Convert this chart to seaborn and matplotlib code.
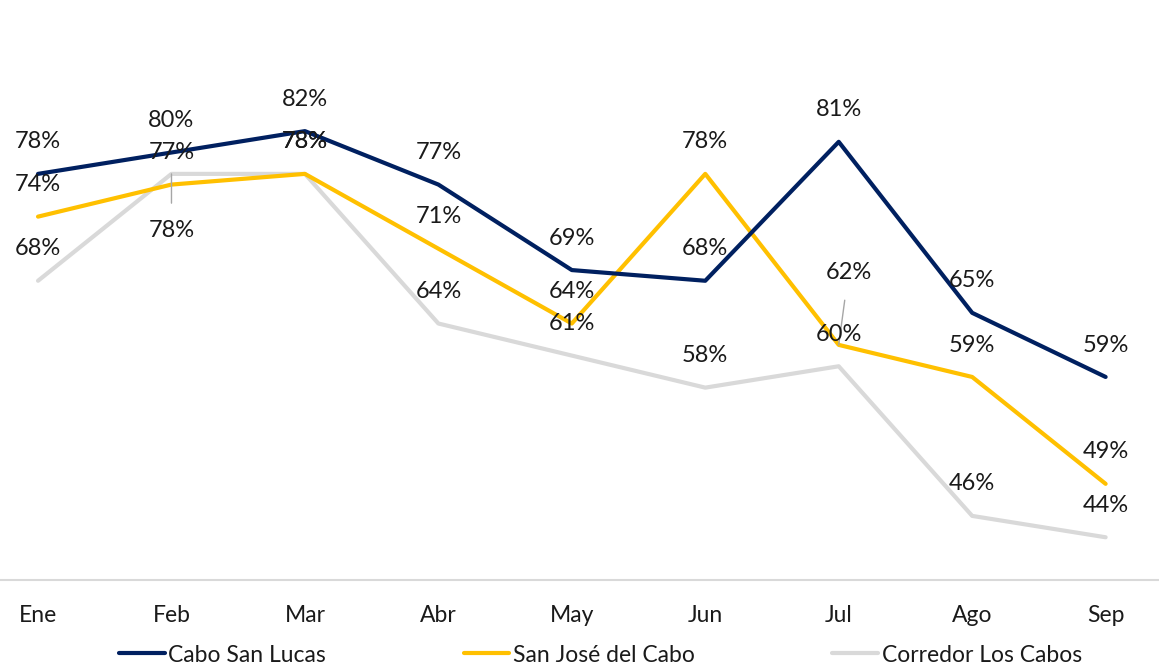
"""
Ocupación hotelera mensual - Los Cabos (line chart with data labels).
"""

import numpy as np
import pandas as pd
import matplotlib
matplotlib.use("Agg")
import matplotlib.pyplot as plt
import seaborn as sns


# ---------------------------------------------------------------------------
# Data
# ---------------------------------------------------------------------------

months = ["Ene", "Feb", "Mar", "Abr", "May", "Jun", "Jul", "Ago", "Sep"]
series_names = ["Cabo San Lucas", "San José del Cabo", "Corredor Los Cabos"]
cabo_san_lucas = [78, 80, 82, 77, 69, 68, 81, 65, 59]
san_jose = [74, 77, 78, 71, 64, 78, 62, 59, 49]
corredor = [68, 78, 78, 64, 61, 58, 60, 46, 44]

colors = ["#002060", "#FFC000", "#D9D9D9"]

# ---------------------------------------------------------------------------
# Plot
# ---------------------------------------------------------------------------

sns.set_style("white")
plt.rcParams["font.family"] = ["Lato", "DejaVu Sans"]

df = pd.DataFrame({
    "mes": months * 3,
    "x": list(range(len(months))) * 3,
    "serie": np.repeat(series_names, len(months)),
    "valor": cabo_san_lucas + san_jose + corredor,
})

fig = plt.figure(figsize=(11.59, 6.68), dpi=100)
ax = fig.add_axes([0.0, 0.1317, 1.0, 0.8])

# draw gray first so the darker lines sit on top
for name in series_names[::-1]:
    sub = df[df["serie"] == name]
    sns.lineplot(data=sub, x="x", y="valor", color=colors[series_names.index(name)],
                 linewidth=3.0, ax=ax, legend=False)

# data labels: above each point, a couple moved with leader lines
label_offsets = {
    ("Corredor Los Cabos", 1): (0, -41),
    ("San José del Cabo", 6): (7, 52),
}
for name in series_names:
    sub = df[df["serie"] == name]
    for _, row in sub.iterrows():
        key = (name, row["x"])
        off = label_offsets.get(key, (0, 23))
        arrow = None
        if key in label_offsets:
            arrow = dict(arrowstyle="-", color="#A6A6A6", lw=1.0,
                         shrinkA=10, shrinkB=0)
        ax.annotate(f"{row['valor']}%", (row["x"], row["valor"]),
                    xytext=off, textcoords="offset points",
                    ha="center", va="center", fontsize=17, color="#1a1a1a",
                    arrowprops=arrow)

ax.set_xlim(-0.285, 8.40)
ax.set_ylim(40, 90)
ax.set_xticks(range(len(months)))
ax.set_xticklabels(months)
ax.set_yticks([])
ax.set_xlabel("")
ax.set_ylabel("")
ax.tick_params(axis="x", length=0, pad=18, labelsize=16.5, labelcolor="#1a1a1a")

for side in ["top", "left", "right"]:
    ax.spines[side].set_visible(False)
ax.spines["bottom"].set_color("#D9D9D9")
ax.spines["bottom"].set_linewidth(1.5)

handles = [plt.Line2D([0], [0], color=c, linewidth=3.0) for c in colors]
fig.legend(handles, series_names, loc="center", bbox_to_anchor=(0.518, 1 - 655 / 668),
           ncol=3, frameon=False, fontsize=16.5, handlelength=2.0,
           handletextpad=0.15, columnspacing=6.0, labelcolor="#1a1a1a")

fig.savefig("out.png", dpi=100)
plt.close(fig)
